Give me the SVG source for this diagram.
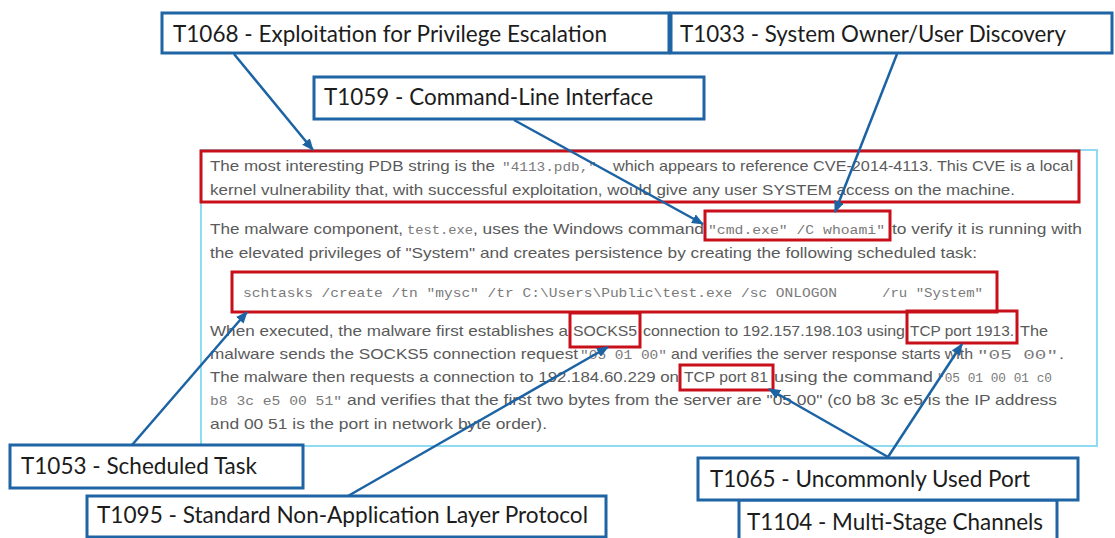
<svg xmlns="http://www.w3.org/2000/svg" width="1115" height="538" viewBox="0 0 1115 538">
<style>
.bg{fill:#ffffff}
.node rect{fill:#ffffff;stroke:#1f65a6;stroke-width:3}
.node text{font-family:"Lato","Liberation Sans",sans-serif;font-size:23px;fill:#1c1c1c}
.panel{fill:#ffffff;stroke:#8fdcf2;stroke-width:2}
.hl{fill:none;stroke:#c8101a;stroke-width:3}
.p{font-family:"Liberation Sans","Noto Sans",sans-serif;font-size:15px;fill:#5a5a5a}
.m{font-family:"Liberation Mono","DejaVu Sans Mono",monospace;font-size:13.5px;fill:#7a7a7a}
.conn line{stroke:#1c63a4;stroke-width:2.5;fill:none}
</style>
<defs>
<marker id="arr" markerUnits="userSpaceOnUse" markerWidth="12" markerHeight="10" refX="11" refY="5" orient="auto">
<path d="M0,0 L12,5 L0,10 z" fill="#1c63a4"/>
</marker>
</defs>
<rect class="bg" x="0" y="0" width="1115" height="538"/>

<g id="excerpt">
<rect class="panel" x="201" y="150" width="896" height="296"/>
<text class="p" x="210" y="171" textLength="285" lengthAdjust="spacingAndGlyphs">The most interesting PDB string is the</text>
<text class="m" x="502" y="171" textLength="95" lengthAdjust="spacingAndGlyphs">"4113.pdb,"</text>
<text class="p" x="613" y="171" textLength="460" lengthAdjust="spacingAndGlyphs">which appears to reference CVE-2014-4113. This CVE is a local</text>
<text class="p" x="210" y="195" textLength="805" lengthAdjust="spacingAndGlyphs">kernel vulnerability that, with successful exploitation, would give any user SYSTEM access on the machine.</text>

<text class="p" x="210" y="234" textLength="193" lengthAdjust="spacingAndGlyphs">The malware component,</text>
<text class="m" x="407" y="234" textLength="66" lengthAdjust="spacingAndGlyphs">test.exe</text>
<text class="p" x="473" y="234" textLength="231" lengthAdjust="spacingAndGlyphs">, uses the Windows command</text>
<text class="m" x="708" y="234" textLength="177" lengthAdjust="spacingAndGlyphs">"cmd.exe" /C whoami"</text>
<text class="p" x="892" y="234" textLength="190" lengthAdjust="spacingAndGlyphs">to verify it is running with</text>
<text class="p" x="210" y="258" textLength="767" lengthAdjust="spacingAndGlyphs">the elevated privileges of "System" and creates persistence by creating the following scheduled task:</text>

<text class="m" x="243" y="297" textLength="594" lengthAdjust="spacingAndGlyphs">schtasks /create /tn "mysc" /tr C:\Users\Public\test.exe /sc ONLOGON</text>
<text class="m" x="882" y="297" textLength="101" lengthAdjust="spacingAndGlyphs">/ru "System"</text>

<text class="p" x="210" y="336" textLength="358" lengthAdjust="spacingAndGlyphs">When executed, the malware first establishes a</text>
<text class="p" x="573" y="336" textLength="64" lengthAdjust="spacingAndGlyphs">SOCKS5</text>
<text class="p" x="643" y="336" textLength="262" lengthAdjust="spacingAndGlyphs">connection to 192.157.198.103 using</text>
<text class="p" x="910" y="336" textLength="104" lengthAdjust="spacingAndGlyphs">TCP port 1913.</text>
<text class="p" x="1020" y="336" textLength="28" lengthAdjust="spacingAndGlyphs">The</text>

<text class="p" x="210" y="359" textLength="368" lengthAdjust="spacingAndGlyphs">malware sends the SOCKS5 connection request</text>
<text class="m" x="580" y="359" textLength="87" lengthAdjust="spacingAndGlyphs">"05 01 00"</text>
<text class="p" x="671" y="359" textLength="302" lengthAdjust="spacingAndGlyphs">and verifies the server response starts with</text>
<text class="m" x="977" y="359" textLength="81" lengthAdjust="spacingAndGlyphs">"05 00"</text>
<text class="p" x="1059" y="359" textLength="5" lengthAdjust="spacingAndGlyphs">.</text>

<text class="p" x="210" y="382" textLength="469" lengthAdjust="spacingAndGlyphs">The malware then requests a connection to 192.184.60.229 on</text>
<text class="p" x="684" y="382" textLength="84" lengthAdjust="spacingAndGlyphs">TCP port 81</text>
<text class="p" x="774" y="382" textLength="159" lengthAdjust="spacingAndGlyphs">using the command</text>
<text class="m" x="937" y="382" textLength="115" lengthAdjust="spacingAndGlyphs">"05 01 00 01 c0</text>

<text class="m" x="210" y="405" textLength="132" lengthAdjust="spacingAndGlyphs">b8 3c e5 00 51"</text>
<text class="p" x="347" y="405" textLength="710" lengthAdjust="spacingAndGlyphs">and verifies that the first two bytes from the server are "05 00" (c0 b8 3c e5 is the IP address</text>
<text class="p" x="210" y="429" textLength="337" lengthAdjust="spacingAndGlyphs">and 00 51 is the port in network byte order).</text>

<rect class="hl" x="201" y="151" width="878" height="51"/>
<rect class="hl" x="705" y="211" width="185" height="29"/>
<rect class="hl" x="232" y="272" width="765" height="40"/>
<rect class="hl" x="570" y="313" width="70" height="34"/>
<rect class="hl" x="907" y="311" width="110" height="32"/>
<rect class="hl" x="680" y="365" width="93" height="25"/>
</g>

<g id="T1104" class="node">
<rect x="739" y="500" width="318" height="42"/>
<text x="747" y="530" textLength="296" lengthAdjust="spacingAndGlyphs">T1104 - Multi-Stage Channels</text>
</g>
<g id="T1068" class="node">
<rect x="162" y="13" width="507" height="40"/>
<text x="173" y="42" textLength="434" lengthAdjust="spacingAndGlyphs">T1068 - Exploitation for Privilege Escalation</text>
</g>
<g id="T1033" class="node">
<rect x="671" y="13" width="441" height="40"/>
<text x="680" y="42" textLength="386" lengthAdjust="spacingAndGlyphs">T1033 - System Owner/User Discovery</text>
</g>
<g id="T1059" class="node">
<rect x="314" y="77" width="390" height="42"/>
<text x="324" y="105" textLength="329" lengthAdjust="spacingAndGlyphs">T1059 - Command-Line Interface</text>
</g>
<g id="T1053" class="node">
<rect x="10" y="445" width="293" height="43"/>
<text x="21" y="474" textLength="236" lengthAdjust="spacingAndGlyphs">T1053 - Scheduled Task</text>
</g>
<g id="T1095" class="node">
<rect x="87" y="496" width="519" height="41"/>
<text x="97" y="523" textLength="491" lengthAdjust="spacingAndGlyphs">T1095 - Standard Non-Application Layer Protocol</text>
</g>
<g id="T1065" class="node">
<rect x="698" y="458" width="380" height="42"/>
<text x="710" y="487" textLength="320" lengthAdjust="spacingAndGlyphs">T1065 - Uncommonly Used Port</text>
</g>

<g id="connectors" class="conn">
<line x1="234" y1="54" x2="313" y2="150" marker-end="url(#arr)"/>
<line x1="514" y1="120" x2="703" y2="224" marker-end="url(#arr)"/>
<line x1="897" y1="54" x2="835" y2="212" marker-end="url(#arr)"/>
<line x1="132" y1="445" x2="247" y2="312" marker-end="url(#arr)"/>
<line x1="348" y1="496" x2="608" y2="347" marker-end="url(#arr)"/>
<line x1="888" y1="457" x2="769" y2="389" marker-end="url(#arr)"/>
<line x1="888" y1="457" x2="962" y2="344" marker-end="url(#arr)"/>
</g>
</svg>
